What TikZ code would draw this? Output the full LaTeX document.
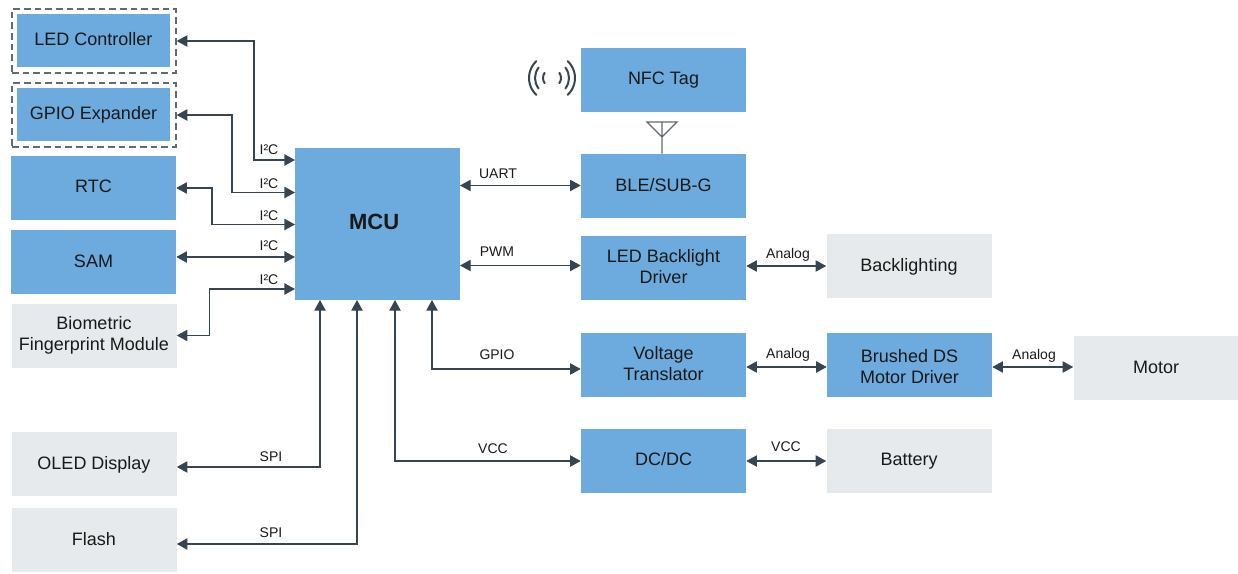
\documentclass[tikz,border=0pt]{standalone}
\usepackage{fontspec}
\setmainfont{Liberation Sans}
\usepackage{tikz}
\usetikzlibrary{arrows.meta}
\definecolor{boxblue}{HTML}{6DABDE}
\definecolor{boxgrey}{HTML}{E6EAEC}
\definecolor{wirecol}{HTML}{36454F}
\definecolor{framecol}{HTML}{5F6B73}
\tikzset{
  blk/.style={inner sep=0, align=center, text=black!90,
    font=\fontsize{13.5}{15.75}\selectfont,
    minimum width=123.75pt, minimum height=48pt},
  bluebox/.style={blk, fill=boxblue},
  greybox/.style={blk, fill=boxgrey},
  innerbox/.style={bluebox, minimum width=114.75pt, minimum height=39.75pt},
  framebox/.style={draw=framecol, line width=1pt, dash pattern=on 5pt off 3pt, inner sep=0,
    minimum width=123pt, minimum height=48pt},
  oneline/.style={text height=11pt, text depth=3.5pt},
  twoline/.style={text height=26.5pt, text depth=3.3pt},
  wire/.style={draw=wirecol, line width=1pt, {Triangle[length=8pt,width=8.5pt]}-{Triangle[length=8pt,width=8.5pt]}},
  lbl/.style={inner sep=0, text=black!90, font=\fontsize{10.5}{12}\selectfont, text height=8pt, text depth=2pt},
  icon/.style={draw=wirecol, line width=1.5pt, line cap=round},
}
\begin{document}
\begin{tikzpicture}[x=0.75pt,y=-0.75pt]
  \useasboundingbox (0,0) rectangle (1238,574);
  % left column
  \node [framebox] (ledframe) at (94,41) {};
  \node [innerbox, oneline] (ledctrl) at (93.5,40.5) {LED Controller};
  \node [framebox] (gpioframe) at (94,115) {};
  \node [innerbox, oneline] (gpioexp) at (93.5,114.5) {GPIO Expander};
  \node [bluebox, oneline] (rtc) at (93.5,188) {RTC};
  \node [bluebox, oneline] (sam) at (93.5,262) {SAM};
  \node [greybox, twoline] (bio) at (94,335.5) {Biometric\\Fingerprint Module};
  \node [greybox, oneline] (oled) at (94,464) {OLED Display};
  \node [greybox, oneline] (flash) at (94,540) {Flash};
  % centre
  \node [bluebox, minimum height=114pt, font=\fontsize{16.5}{18}\selectfont\bfseries, text height=12pt, text depth=4.5pt] (mcu) at (377.5,224) {MCU\hspace*{5pt}};
  \node [bluebox, oneline] (nfc) at (663.5,80) {NFC Tag};
  \node [bluebox, oneline] (ble) at (663.5,186) {BLE/SUB-G};
  \node [bluebox, twoline] (backdrv) at (663.5,268) {LED Backlight\\Driver};
  \node [bluebox, twoline] (volt) at (663.5,365) {Voltage\\Translator};
  \node [bluebox, text height=11pt, text depth=5pt] (dcdc) at (663.5,461) {DC/DC};
  % right
  \node [greybox, oneline] (backlight) at (909,266) {Backlighting};
  \node [bluebox, text height=30.8pt, text depth=3pt] (motdrv) at (909.5,365) {Brushed DS\\Motor Driver};
  \node [greybox, text height=11pt, text depth=5pt] (battery) at (909,461) {Battery};
  \node [greybox, oneline] (motor) at (1156,368) {Motor};
  % ports on the mcu
  \coordinate (pa) at (295,160);
  \coordinate (pb) at (295,192.5);
  \coordinate (pc) at (295,224.5);
  \coordinate (pd) at (295,257);
  \coordinate (pe) at (295,289);
  \coordinate (pf) at (320,300);
  \coordinate (pg) at (357,300);
  \coordinate (ph) at (395,300);
  \coordinate (pi) at (432,300);
  \coordinate (pj) at (460,185.5);
  \coordinate (pk) at (460,265.5);
  % i2c side
  \draw [wire] (ledframe.east) -- (254,41) |- (pa);
  \draw [wire] (gpioframe.east) -- (232,115) |- (pb);
  \draw [wire] (rtc.east) -- (212,188) |- (pc);
  \draw [wire] (sam.east |- pd) -- (pd);
  \draw [wire] (bio.east) -- (209.5,335.5) |- (pe);
  \draw [wire] (oled.east |- 0,467) -| (pf);
  \draw [wire] (flash.east |- 0,544) -| (pg);
  % right side
  \draw [wire] (pj) -- (ble.west |- pj);
  \draw [wire] (pk) -- (backdrv.west |- pk);
  \draw [wire] (pi) |- (volt.west |- 0,369);
  \draw [wire] (ph) |- (dcdc.west);
  \draw [wire] (backdrv.east |- 0,266) -- (backlight.west);
  \draw [wire] (volt.east |- 0,367) -- (motdrv.west |- 0,367);
  \draw [wire] (motdrv.east |- 0,367) -- (motor.west |- 0,367);
  \draw [wire] (dcdc.east) -- (battery.west);
  % labels
  \foreach \y in {150.5,184.5,216,246,280}
    \node [lbl] at (269,\y) {I²C};
  \node [lbl] at (271,457) {SPI};
  \node [lbl] at (271,533) {SPI};
  \node [lbl] at (498,175) {UART};
  \node [lbl] at (497,252) {PWM};
  \node [lbl] at (497,355) {GPIO};
  \node [lbl] at (493,449) {VCC};
  \node [lbl] at (788,254) {Analog};
  \node [lbl] at (788,354) {Analog};
  \node [lbl] at (1034,355) {Analog};
  \node [lbl] at (786,447) {VCC};
  % antenna
  \coordinate (ant) at (662,137);
  \draw [framecol, line width=0.9pt] (ble.north -| ant) -- (662,122) (647,122) -- (677,122) -- (ant) -- cycle;
  % nfc waves
  \foreach \r/\a in {23/47,17/38,9/35} {
    \draw [icon] (552,78) ++(180-\a:\r) arc (180-\a:180+\a:\r);
    \draw [icon] (552,78) ++(-\a:\r) arc (-\a:\a:\r);
  }
\end{tikzpicture}
\end{document}
